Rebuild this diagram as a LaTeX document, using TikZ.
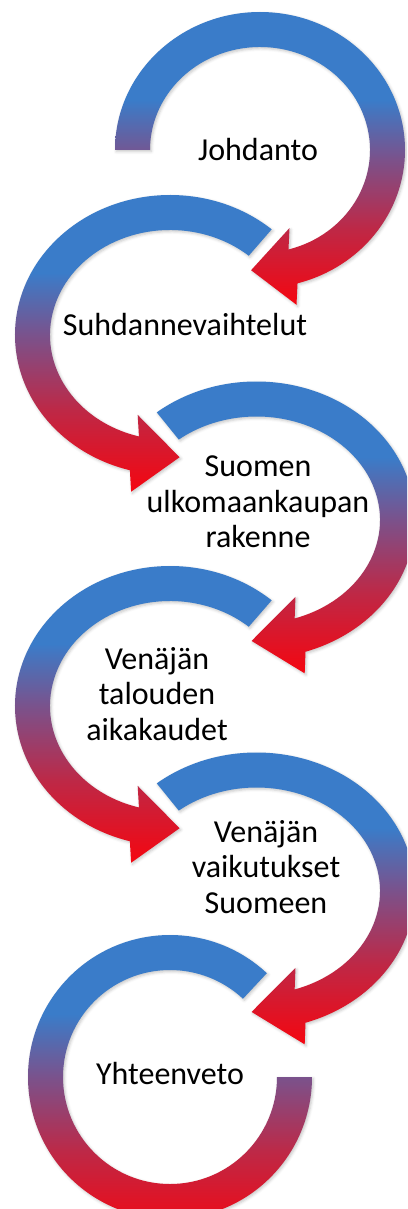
\documentclass[tikz,border=0pt]{standalone}
\usepackage{fontspec}
\setmainfont{Carlito}
\usetikzlibrary{calc,shadows.blur}

\definecolor{arcblue}{RGB}{58,124,201}
\definecolor{arcpurple}{RGB}{122,82,140}
\definecolor{arcmagenta}{RGB}{190,40,70}
\definecolor{arcred}{RGB}{245,6,16}

\pgfdeclareverticalshading{arcgrad}{100bp}{color(0bp)=(arcred); color(25bp)=(arcred); color(38bp)=(arcmagenta); color(50bp)=(arcpurple); color(60bp)=(arcblue); color(100bp)=(arcblue)}

\tikzset{every picture/.style={line width=0.75pt},
  ringfill/.style={shading=arcgrad, blur shadow={shadow xshift=1pt, shadow yshift=-1.2pt, shadow blur radius=2pt, shadow opacity=22}},
  stagetext/.style={font=\fontsize{24}{26.5}\selectfont, align=center, inner sep=0.75pt}}

% ring with arrow head: centre, x radius, y radius, start, back, tip, outer turn, inner turn
\newcommand{\ringarrow}[8]{%
  \coordinate (back) at ($(#1)+(#5:#2 and #3)$);
  \coordinate (tip) at ($(#1)+(#6:#2 and #3)$);
  \shade[ringfill] ($(#1)+(#4:{#2+17.5} and {#3+17.5})$)
    arc[start angle=#4, end angle=#5, x radius={#2+17.5}, y radius={#3+17.5}]
    -- ($(back)!28.9pt!#7:(tip)$) -- (tip) -- ($(back)!28.9pt!#8:(tip)$)
    -- ($(#1)+(#5:{#2-17.5} and {#3-17.5})$)
    arc[start angle=#5, end angle=#4, x radius={#2-17.5}, y radius={#3-17.5}] -- cycle;
}

\begin{document}
\begin{tikzpicture}[x=0.75pt,y=0.75pt,yscale=-1,xscale=1]
\useasboundingbox (0,0) rectangle (407,1209);
\clip (0,0) rectangle (407,1209);

\coordinate (c1) at (260,150);
\coordinate (c2) at (170,335);
\coordinate (c3) at (256.5,520);
\coordinate (c4) at (170,706);
\coordinate (c5) at (256.5,891);
\coordinate (c6) at (170,1077);

%Shape: Circular Arrow [id:johdanto]
\ringarrow{c1}{127.5}{120.5}{180}{435}{454}{-90}{90}
%Shape: Circular Arrow [id:suhdanne]
\ringarrow{c2}{137.5}{122.5}{311}{105}{86}{90}{-90}
%Shape: Circular Arrow [id:rakenne]
\ringarrow{c3}{141}{121}{231}{432}{452}{-90}{90}
%Shape: Circular Arrow [id:aikakaudet]
\ringarrow{c4}{137.5}{122.5}{311}{105}{86}{90}{-90}
%Shape: Circular Arrow [id:vaikutukset]
\ringarrow{c5}{141}{121}{231}{432}{452}{-90}{90}
%Shape: Arc [id:yhteenveto]
\shade[ringfill] ($(c6)+(313:142)$) arc[start angle=313, end angle=0, radius=142]
  -- ($(c6)+(0:107)$) arc[start angle=0, end angle=313, radius=107] -- cycle;

% Text Node
\node[stagetext] (johdanto) at (258,150) {Johdanto};
% Text Node
\node[stagetext] (suhdanne) at (185,325) {Suhdannevaihtelut};
% Text Node
\node[stagetext] (rakenne) at (258,502) {Suomen\\ulkomaankaupan\\rakenne};
% Text Node
\node[stagetext] (aikakaudet) at (157,694) {Venäjän\\talouden\\aikakaudet};
% Text Node
\node[stagetext] (vaikutukset) at (266,867) {Venäjän\\vaikutukset\\Suomeen};
% Text Node
\node[stagetext] (yhteenveto) at (170,1073) {Yhteenveto};

\end{tikzpicture}
\end{document}
